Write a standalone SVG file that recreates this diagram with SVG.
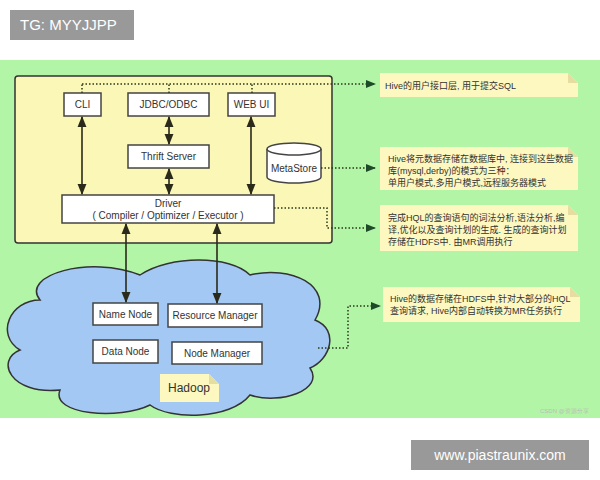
<svg xmlns="http://www.w3.org/2000/svg" width="600" height="480" viewBox="0 0 600 480">
<defs>
<marker id="a" viewBox="0 0 10 10" refX="9" refY="5" markerWidth="7" markerHeight="7" orient="auto-start-reverse"><path d="M0,1 L10,5 L0,9 z" fill="#2a2a1a"/></marker>
<marker id="b" viewBox="0 0 10 10" refX="9" refY="5" markerWidth="7" markerHeight="7" orient="auto"><path d="M0,1 L10,5 L0,9 z" fill="#1f4a2a"/></marker>
</defs>
<style>
.n{fill:#fff;stroke:#444;stroke-width:1.5}
.t{font-family:"Liberation Sans",Arial,sans-serif;font-size:10px;fill:#333;text-anchor:middle}
.c{font-family:"Liberation Sans","Noto Sans CJK SC",sans-serif;font-size:9px;fill:#333}
.s{stroke:#2a2a1a;stroke-width:1.6;fill:none;marker-start:url(#a);marker-end:url(#a)}
.d{stroke:#2a3a1a;stroke-width:1.5;fill:none;stroke-dasharray:1.5 2;marker-end:url(#b)}
.note{fill:#fdf7c0}
.fold{fill:#e6dea0}
</style>
<rect width="600" height="480" fill="#fff"/>
<rect x="10" y="10" width="124" height="30" fill="#999"/>
<text x="20" y="30" font-family="Liberation Sans,sans-serif" font-size="15" fill="#fff">TG: MYYJJPP</text>
<rect x="0" y="60" width="600" height="358" fill="#b3f5a6"/>
<g id="hive"><rect x="15" y="76" width="317" height="167" rx="3" fill="#fbf7b7" stroke="#333" stroke-width="1.5"/></g>
<g id="cloud"><path d="M40,300 C20,275 90,255 140,275 C170,255 230,255 250,275 C290,265 335,285 315,320 C340,330 330,360 310,368 C325,390 280,405 250,395 C230,420 170,420 150,405 C120,420 50,415 60,390 C10,395 -5,360 20,350 C-5,335 10,300 40,300 Z" fill="#a3c8f3" stroke="#333" stroke-width="1.5"/></g>
<g id="cli"><rect class="n" x="64" y="93" width="37" height="23"/><text class="t" x="82.5" y="108">CLI</text></g>
<g id="jdbc"><rect class="n" x="128" y="93" width="81" height="23"/><text class="t" x="168.5" y="108">JDBC/ODBC</text></g>
<g id="webui"><rect class="n" x="228" y="93" width="47" height="23"/><text class="t" x="251.5" y="108">WEB UI</text></g>
<g id="thrift"><rect class="n" x="128" y="145" width="81" height="23"/><text class="t" x="168.5" y="160">Thrift Server</text></g>
<g id="metastore"><path d="M267,149 L267,177 A27,6 0 0 0 321,177 L321,149" fill="#fff" stroke="#444" stroke-width="1.5"/><ellipse cx="294" cy="149" rx="27" ry="6" fill="#fff" stroke="#444" stroke-width="1.5"/><text class="t" x="294" y="172">MetaStore</text></g>
<g id="driver"><rect class="n" x="62" y="195" width="212" height="28"/><text class="t" x="168" y="207">Driver</text><text class="t" x="168" y="219">( Compiler / Optimizer / Executor )</text></g>
<g id="namenode"><rect class="n" x="93" y="303" width="65" height="22"/><text class="t" x="125.5" y="318">Name Node</text></g>
<g id="rm"><rect class="n" x="168" y="304" width="94" height="23"/><text class="t" x="215" y="319">Resource Manager</text></g>
<g id="datanode"><rect class="n" x="93" y="340" width="65" height="23"/><text class="t" x="125.5" y="355">Data Node</text></g>
<g id="nm"><rect class="n" x="172" y="342" width="90" height="22"/><text class="t" x="217" y="357">Node Manager</text></g>
<g id="hadoop"><path d="M160,374 H209 L219,384 V402 H160 Z" class="note"/><path d="M209,374 V384 H219 Z" class="fold"/><text x="168" y="392" font-family="Liberation Sans,sans-serif" font-size="12" fill="#333">Hadoop</text></g>
<g id="note1"><path d="M380,73 H568 L578,83 V97 H380 Z" class="note"/><path d="M568,73 V83 H578 Z" class="fold"/><text class="c" x="385" y="89">Hive的用户接口层, 用于提交SQL</text></g>
<g id="note2"><path d="M380,147 H568 L578,157 V190 H380 Z" class="note"/><path d="M568,147 V157 H578 Z" class="fold"/><text class="c" x="388" y="162">Hive将元数据存储在数据库中, 连接到这些数据</text><text class="c" x="388" y="174">库(mysql,derby)的模式为三种：</text><text class="c" x="388" y="186">单用户模式,多用户模式,远程服务器模式</text></g>
<g id="note3"><path d="M380,205 H568 L578,215 V251 H380 Z" class="note"/><path d="M568,205 V215 H578 Z" class="fold"/><text class="c" x="388" y="221">完成HQL的查询语句的词法分析,语法分析,编</text><text class="c" x="388" y="233">译,优化以及查询计划的生成. 生成的查询计划</text><text class="c" x="388" y="245">存储在HDFS中. 由MR调用执行</text></g>
<g id="note4"><path d="M383,287 H570 L580,297 V322 H383 Z" class="note"/><path d="M570,287 V297 H580 Z" class="fold"/><text class="c" x="390" y="302">Hive的数据存储在HDFS中,针对大部分的HQL</text><text class="c" x="390" y="314">查询请求, Hive内部自动转换为MR任务执行</text></g>
<g id="connectors">
<line class="s" x1="82" y1="117" x2="82" y2="194"/>
<line class="s" x1="169" y1="117" x2="169" y2="144"/>
<line class="s" x1="169" y1="169" x2="169" y2="194"/>
<line class="s" x1="251" y1="117" x2="251" y2="194"/>
<line class="s" x1="126" y1="224" x2="126" y2="302"/>
<line class="s" x1="217" y1="224" x2="217" y2="303"/>
<path d="M82,93 V84 M169,93 V84 M252,93 V84" stroke="#2a3a1a" stroke-width="1.5" stroke-dasharray="1.5 2" fill="none"/>
<path class="d" d="M82,84 H375"/>
<path class="d" d="M321,168 H375"/>
<path class="d" d="M274,208 H327 V228 H375"/>
<path class="d" d="M318,348 H348 V306 H380"/>
</g>
<text x="540" y="413" font-family="Liberation Sans,sans-serif" font-size="6" fill="#bbb">CSDN @资源分享</text>
<rect x="411" y="440" width="178" height="30" fill="#999"/>
<text x="500" y="460" text-anchor="middle" font-family="Liberation Sans,sans-serif" font-size="14" fill="#fff">www.piastraunix.com</text>
</svg>
